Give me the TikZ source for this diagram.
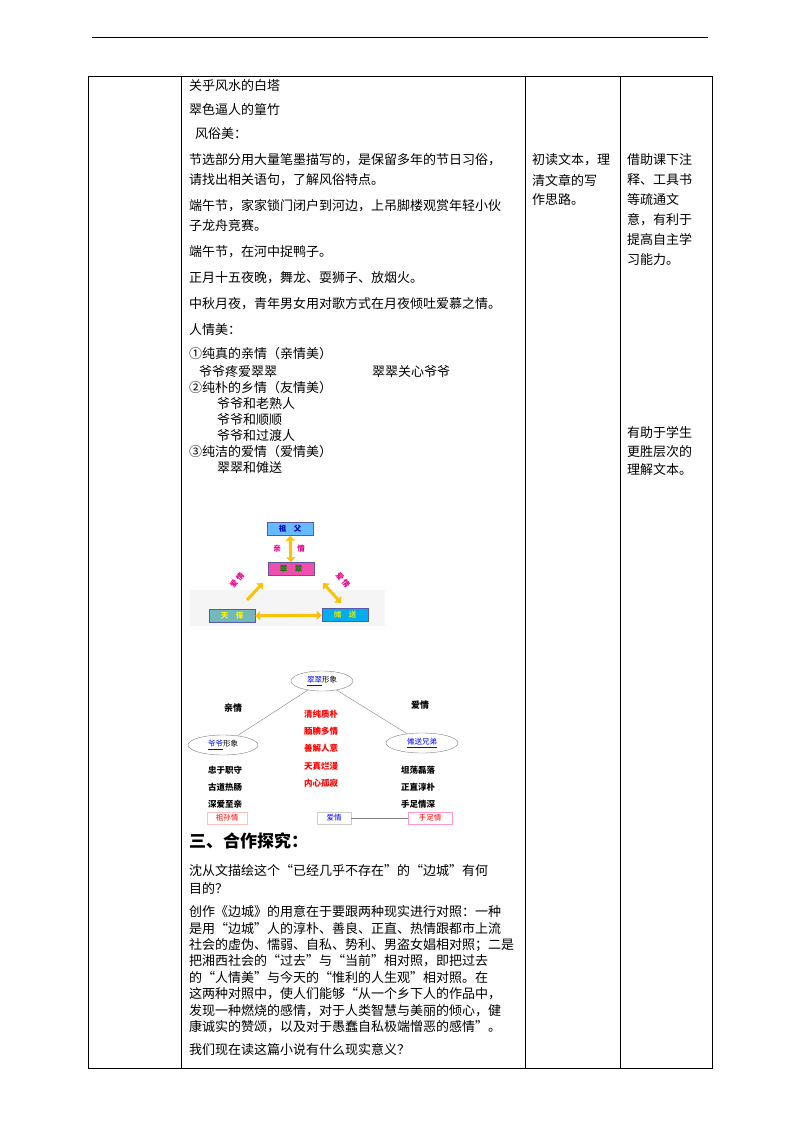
\documentclass[tikz,border=0pt]{standalone}
\usepackage{fontspec}
\setmainfont{Liberation Serif}
\newfontfamily\cjk{Noto Sans CJK SC}
\usetikzlibrary{arrows.meta,shapes.geometric}
\begin{document}
\begin{tikzpicture}[x=1pt,y=-1pt,
 t/.style={anchor=west,inner sep=0,font=\cjk\fontsize{13}{13}\selectfont},
 s/.style={anchor=center,inner sep=0,font=\cjk\bfseries\fontsize{7.5}{7.5}\selectfont},
 r/.style={anchor=center,inner sep=0,font=\cjk\bfseries\fontsize{8.5}{8.5}\selectfont,text=red},
 b/.style={anchor=center,inner sep=0,font=\cjk\bfseries\fontsize{8.5}{8.5}\selectfont},
 box/.style={draw=gray!70!blue,minimum width=46,minimum height=13,inner sep=0,font=\cjk\bfseries\fontsize{7.5}{7.5}\selectfont},
 ya/.style={draw={rgb,255:red,250;green,195;blue,10},line width=3,-{Triangle[length=5,width=9]}},
 yd/.style={ya,{Triangle[length=5,width=9]}-{Triangle[length=5,width=9]}},
 el/.style={draw=gray,ellipse,minimum width=62,minimum height=20,inner sep=0,font=\cjk\fontsize{7.5}{7.5}\selectfont}]
\useasboundingbox (0,0) rectangle (800,1132);
\fill[white] (0,0) rectangle (800,1132);
\draw[line width=1] (92,38) -- (708,38);
\draw (88,76) rectangle (712,1068);
\foreach \x in {181,525,620} \draw (\x,76) -- (\x,1068);
% column 2 text
\node[t] (l1) at (189,86) {关乎风水的白塔};
\node[t] (l2) at (189,110) {翠色逼人的篁竹};
\node[t] (l3) at (195,134) {风俗美：};
\node[t] (l4) at (189,160) {节选部分用大量笔墨描写的，是保留多年的节日习俗，};
\node[t] (l5) at (189,180) {请找出相关语句，了解风俗特点。};
\node[t] (l6) at (189,206) {端午节，家家锁门闭户到河边，上吊脚楼观赏年轻小伙};
\node[t] (l7) at (189,226) {子龙舟竞赛。};
\node[t] (l8) at (189,252) {端午节，在河中捉鸭子。};
\node[t] (l9) at (189,278) {正月十五夜晚，舞龙、耍狮子、放烟火。};
\node[t] (l10) at (189,304) {中秋月夜，青年男女用对歌方式在月夜倾吐爱慕之情。};
\node[t] (l11) at (189,330) {人情美：};
\node[t] (l12) at (189,354) {①纯真的亲情（亲情美）};
\node[t] (l13) at (199,372) {爷爷疼爱翠翠};
\node[t] (l13b) at (372,372) {翠翠关心爷爷};
\node[t] (l14) at (189,388) {②纯朴的乡情（友情美）};
\node[t] (l15) at (217,404) {爷爷和老熟人};
\node[t] (l16) at (217,420) {爷爷和顺顺};
\node[t] (l17) at (217,436) {爷爷和过渡人};
\node[t] (l18) at (189,452) {③纯洁的爱情（爱情美）};
\node[t] (l19) at (217,468) {翠翠和傩送};
% diagram 1
\fill[gray!8] (190,590) rectangle (385,626);
\node[box,fill=blue!45!cyan!60] (zf) at (290,529) {\textcolor{blue!70!black}{祖\quad 父}};
\node[box,fill=magenta!70] (cc) at (291,569) {\textcolor{green!50!black}{翠\quad 翠}};
\node[box,fill=teal!55] (tb) at (232,616) {\textcolor{yellow}{天\quad 保}};
\node[box,fill=cyan] (ns) at (345,615) {\textcolor{yellow!80!green}{傩\quad 送}};
\draw[yd] (zf) -- (cc);
\draw[ya] (247,600) -- (263,583);
\draw[yd] (323,583) -- (341,603);
\draw[yd] (tb) -- (ns);
\node[s,text=magenta] (q1) at (277,549) {亲};
\node[s,text=magenta] (q2) at (301,549) {情};
\node[s,text=magenta,rotate=50] (a1) at (234,584) {爱};
\node[s,text=magenta,rotate=50] (a1b) at (240,577) {情};
\node[s,text=magenta,rotate=-50] (a2) at (340,577) {爱};
\node[s,text=magenta,rotate=-50] (a2b) at (346,584) {情};
% diagram 2
\node[el] (ec) at (322,681) {\textcolor{blue}{\underline{翠翠}}形象};
\node[el,minimum width=70] (el) at (223,745) {\textcolor{blue}{\underline{爷爷}}形象};
\node[el,minimum width=72] (er) at (422,743) {\textcolor{blue}{\underline{傩送兄弟}}};
\draw[gray] (ec) -- (el);
\draw[gray] (ec) -- (er);
\node[b,font=\cjk\bfseries\fontsize{9}{9}\selectfont] (qq) at (233,708) {亲情};
\node[b,font=\cjk\bfseries\fontsize{9}{9}\selectfont] (aq) at (420,705) {爱情};
\foreach \y/\w [count=\i] in {714/清纯质朴,731/腼腆多情,748/善解人意,766/天真烂漫,783/内心孤寂}
  \node[r] (m\i) at (321,\y) {\w};
\foreach \y/\w [count=\i] in {770/忠于职守,787/古道热肠,804/深爱至亲}
  \node[b] (p\i) at (225,\y) {\w};
\foreach \y/\w [count=\i] in {770/坦荡磊落,787/正直淳朴,804/手足情深}
  \node[b] (n\i) at (418,\y) {\w};
\node[draw=pink,minimum width=40,minimum height=12,inner sep=0,font=\cjk\fontsize{7.5}{7.5}\selectfont,text=red] (zs) at (227,818) {祖孙情};
\node[draw=gray!40,minimum width=34,minimum height=12,inner sep=0,font=\cjk\fontsize{7.5}{7.5}\selectfont,text=blue] (aq2) at (334,818) {爱情};
\node[draw=pink!80!magenta,minimum width=44,minimum height=12,inner sep=0,font=\cjk\fontsize{7.5}{7.5}\selectfont,text=red] (sz) at (430,818) {手足情};
\draw[gray] (aq2) -- (sz);
% section 3
\node[t,font=\cjk\bfseries\fontsize{17}{17}\selectfont] (h3) at (189,841) {三、合作探究：};
\node[t] (k1) at (189,871) {沈从文描绘这个“已经几乎不存在”的“边城”有何};
\node[t] (k2) at (189,888) {目的？};
\foreach \y/\w [count=\i] in {912/创作《边城》的用意在于要跟两种现实进行对照：一种,929/是用“边城”人的淳朴、善良、正直、热情跟都市上流,945/社会的虚伪、懦弱、自私、势利、男盗女娼相对照；二是,961/把湘西社会的“过去”与“当前”相对照，即把过去,978/的“人情美”与今天的“惟利的人生观”相对照。在,994/这两种对照中，使人们能够“从一个乡下人的作品中，,1011/发现一种燃烧的感情，对于人类智慧与美丽的倾心，健,1027/康诚实的赞颂，以及对于愚蠢自私极端憎恶的感情”。}
  \node[t] (c\i) at (189,\y) {\w};
\node[t] (c9) at (189,1050) {我们现在读这篇小说有什么现实意义？};
% column 3
\node[t] (d1) at (532,160) {初读文本，理};
\node[t] (d2) at (532,180) {清文章的写};
\node[t] (d3) at (532,200) {作思路。};
% column 4
\foreach \y/\w [count=\i] in {160/借助课下注,180/释、工具书,200/等疏通文,220/意，有利于,240/提高自主学,260/习能力。,433/有助于学生,452/更胜层次的,470/理解文本。}
  \node[t] (e\i) at (627,\y) {\w};
\end{tikzpicture}
\end{document}
